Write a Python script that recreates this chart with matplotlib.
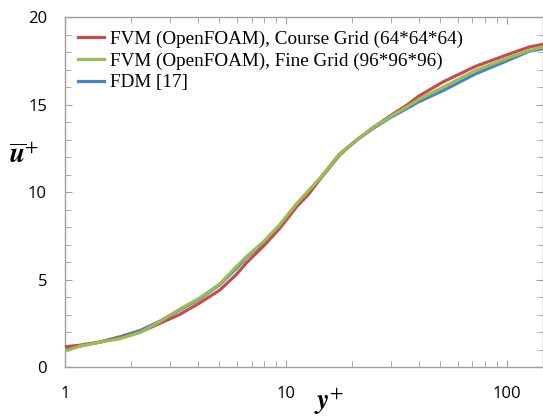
import matplotlib
matplotlib.use("Agg")
import matplotlib.pyplot as plt
from matplotlib.ticker import MultipleLocator, LogLocator, NullFormatter

plt.rcParams['mathtext.fontset'] = 'stix'

# mean velocity profiles, u+ against y+
y_plus = [1.0, 1.17, 1.44, 1.77, 2.19, 2.69, 3.3, 4.08, 5.02, 5.98, 6.62,
          7.9, 9.4, 11.2, 12.6, 14.3, 17.6, 20.9, 24.9, 29.6, 35.3, 39.9,
          51.5, 72.6, 103, 127, 146]
u_coarse = [1.16, 1.25, 1.43, 1.68, 2.0, 2.5, 3.0, 3.67, 4.4, 5.3, 5.95,
            6.9, 7.94, 9.17, 9.84, 10.75, 12.15, 12.97, 13.7, 14.35, 14.97,
            15.48, 16.3, 17.2, 17.9, 18.3, 18.45]
u_fine = [0.9, 1.2, 1.42, 1.62, 1.98, 2.6, 3.3, 3.95, 4.75, 5.75, 6.3,
          7.15, 8.15, 9.35, 10.05, 10.8, 12.2, 12.97, 13.7, 14.3, 14.87,
          15.29, 16.0, 16.96, 17.7, 18.1, 18.3]
u_fdm = [1.0, 1.2, 1.43, 1.73, 2.09, 2.62, 3.25, 3.9, 4.71, 5.65, 6.25,
         7.1, 8.1, 9.3, 10.0, 10.8, 12.2, 12.97, 13.65, 14.25, 14.78,
         15.16, 15.8, 16.77, 17.57, 18.06, 18.2]

labels = ["FVM (OpenFOAM), Course Grid (64*64*64)",
          "FVM (OpenFOAM), Fine Grid (96*96*96)",
          "FDM [17]"]

red = '#C0504D'
green = '#9BBB59'
blue = '#4F81BD'
grey = '#A0A0A0'

fig = plt.figure(figsize=(5.43, 4.19), dpi=100)
ax = fig.add_axes([0.1197, 0.124, 0.8803, 0.835])

l1, = ax.plot(y_plus, u_coarse, color=red, lw=2.3, zorder=3)
l2, = ax.plot(y_plus, u_fine, color=green, lw=2.3, zorder=4)
l3, = ax.plot(y_plus, u_fdm, color=blue, lw=2.3, zorder=2)

ax.set_xscale('log')
ax.set_xlim(1, 146)
ax.set_ylim(0, 20)
ax.yaxis.set_major_locator(MultipleLocator(5))
ax.yaxis.set_minor_locator(MultipleLocator(1))
ax.xaxis.set_minor_locator(LogLocator(base=10, subs=range(2, 10)))
ax.xaxis.set_minor_formatter(NullFormatter())
ax.set_xticks([1, 10, 100])
ax.set_xticklabels(['1', '10', '100'])

for s in ax.spines.values():
    s.set_color(grey)
    s.set_linewidth(1.0)

ax.tick_params(which='both', direction='in', colors=grey, top=True, right=True,
               labelcolor='black', labelsize=12)
ax.tick_params(which='major', length=5)
ax.tick_params(which='minor', length=4)
ax.tick_params(axis='x', pad=14)
ax.tick_params(axis='y', pad=13)
for lab in ax.get_xticklabels() + ax.get_yticklabels():
    lab.set_fontfamily('Open Sans')

ax.text(-0.085, 0.605, r'$\overline{\mathbfit{u}}^{+}$', transform=ax.transAxes,
        fontsize=20, ha='center', va='center')
ax.text(0.552, -0.1, r'$\mathbfit{y}^{+}$', transform=ax.transAxes,
        fontsize=20, ha='center', va='center')

ax.legend([l1, l2, l3], labels, loc='upper left', frameon=False,
          prop={'family': 'Liberation Serif', 'size': 13.8},
          handlelength=1.35, handletextpad=0.3, labelspacing=0.22,
          borderaxespad=0.4, borderpad=0.3)

fig.savefig('out.png', dpi=100)
